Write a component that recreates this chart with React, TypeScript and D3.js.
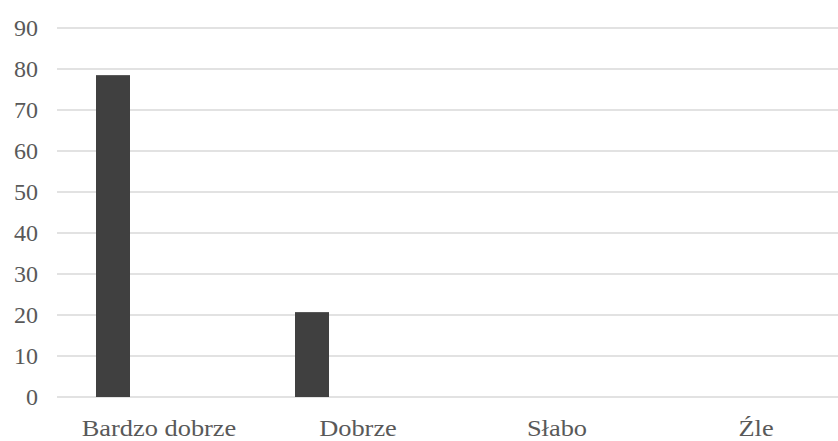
import React from "react";
import * as d3 from "d3";

const categories = ["Bardzo dobrze", "Dobrze", "Słabo", "Źle"];
const values = [78.5, 20.7, 0, 0];
const yTicks = [0, 10, 20, 30, 40, 50, 60, 70, 80, 90];

const W = 838;
const H = 441;

export default function App() {
  const x = d3.scaleBand<string>().domain(categories).range([59.5, 855.5]).padding(0);
  const y = d3.scaleLinear().domain([0, 90]).range([397, 28]);
  // slots inside each category band (bar occupies first slot)
  const inner = d3.scaleBand<number>().domain([0, 1, 2]).range([-69, 69]).padding(0);
  const barW = 34;
  const font = "'Liberation Serif', 'Times New Roman', serif";

  return (
    <svg width={W} height={H} style={{ position: "absolute", left: 0, top: 0, background: "#fff" }}>
      <g>
        {yTicks.map((t) => (
          <line key={"g" + t} x1={57} x2={W} y1={y(t)} y2={y(t)} stroke="#d9d9d9" strokeWidth={1.3} />
        ))}
        {yTicks.map((t) => (
          <text
            key={"t" + t}
            x={38}
            y={y(t)}
            textAnchor="end"
            dominantBaseline="central"
            fontFamily={font}
            fontSize={24}
            fill="#595959"
          >
            {t}
          </text>
        ))}
        {categories.map((c, i) => {
          const cx = (x(c) as number) + x.bandwidth() / 2;
          const sx = cx + (inner(0) as number) + inner.bandwidth() / 2;
          return values[i] > 0 ? (
            <rect key={"b" + c} x={sx - barW / 2} y={y(values[i])} width={barW} height={y(0) - y(values[i])} fill="#404040" />
          ) : null;
        })}
        {categories.map((c) => {
          const cx = (x(c) as number) + x.bandwidth() / 2;
          return (
            <text
              key={"c" + c}
              x={0}
              y={0}
              transform={`translate(${cx},436) scale(1.1,1)`}
              textAnchor="middle"
              fontFamily={font}
              fontSize={24}
              fill="#595959"
            >
              {c}
            </text>
          );
        })}
      </g>
    </svg>
  );
}
